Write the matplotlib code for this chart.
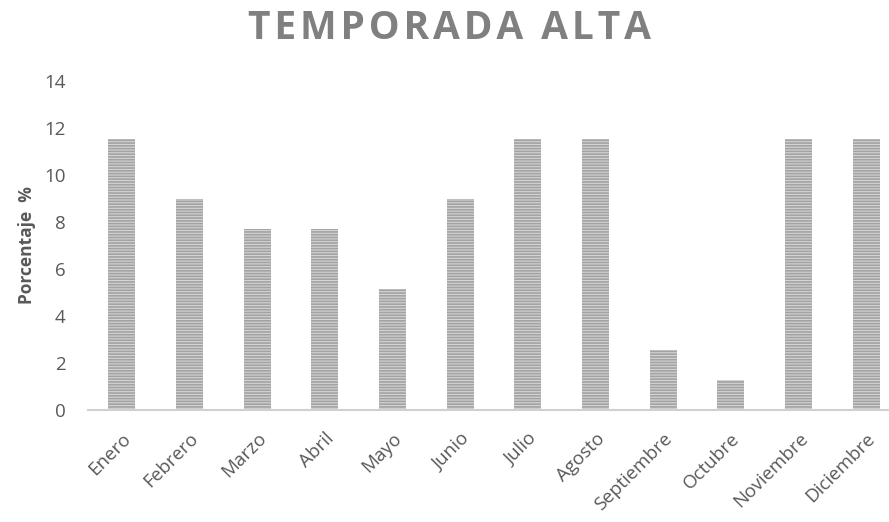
import matplotlib.pyplot as plt

meses = ['Enero', 'Febrero', 'Marzo', 'Abril', 'Mayo', 'Junio', 'Julio',
         'Agosto', 'Septiembre', 'Octubre', 'Noviembre', 'Diciembre']
porcentaje = [11.54, 8.97, 7.69, 7.69, 5.13, 8.97, 11.54,
              11.54, 2.56, 1.28, 11.54, 11.54]
yticks = [0, 2, 4, 6, 8, 10, 12, 14]
titulo = 'TEMPORADA ALTA'


def main():
    plt.rcParams['font.family'] = ['Open Sans', 'DejaVu Sans']
    plt.rcParams['hatch.linewidth'] = 1.2

    fig = plt.figure(figsize=(8.89, 5.22), dpi=100)
    # axes run past the right edge, like the cropped original
    ax = fig.add_axes([88 / 889, 112 / 522, 812 / 889, 329 / 522])

    x = range(len(meses))
    ax.bar(x, porcentaje, width=0.4, color='#d4d4d4', edgecolor='#a3a3a3',
           linewidth=0, hatch='------')

    ax.set_xlim(-0.5, 11.5)
    ax.set_ylim(0, 14)
    ax.set_yticks(yticks)
    ax.set_xticks(list(x))
    ax.set_xticklabels(meses, rotation=45, ha='right', va='top',
                       rotation_mode='anchor', fontsize=13.5)

    for s in ['top', 'right', 'left']:
        ax.spines[s].set_visible(False)
    ax.spines['bottom'].set_color('#d0d0d0')
    ax.spines['bottom'].set_linewidth(1.5)

    ax.tick_params(axis='both', length=0, colors='#595959')
    ax.tick_params(axis='y', pad=16, labelsize=13.5)
    ax.tick_params(axis='x', pad=14)

    ax.set_ylabel('Porcentaje  %', fontsize=12.5, fontweight='bold',
                  color='#595959', fontstretch='condensed', labelpad=6)

    # wide letter spacing as in the original title (hair spaces)
    spaced = '\u200a'.join(titulo)
    fig.text(0.506, 0.945, spaced, ha='center', va='center',
             fontsize=28, fontweight='bold', color='#808080')

    plt.savefig('out.png', dpi=100)


if __name__ == "__main__":
    main()
